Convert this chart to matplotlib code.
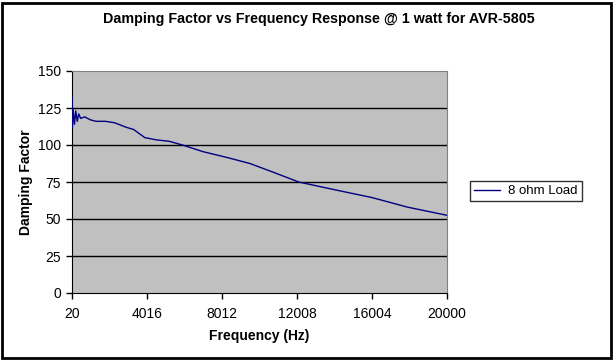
import matplotlib.pyplot as plt
from matplotlib.patches import Rectangle

plt.rcParams['font.family'] = ['Liberation Sans', 'DejaVu Sans']

# frequency (Hz) and damping factor
freq = [20, 40, 80, 150, 220, 300, 380, 480, 700, 1000, 1300, 1800, 2300,
        2900, 3300, 3900, 4500, 5200, 5900, 7000, 8300, 9500, 10700, 12100,
        14300, 16000, 17900, 20000]
damping = [132, 112, 124, 114, 123, 116, 121, 118, 119, 117, 116, 116, 115,
           112, 110.5, 105, 103.5, 102.5, 100, 95.5, 91.5, 87.5, 81.8, 75,
           69, 64.5, 58, 52.5]

xticks = [20, 4016, 8012, 12008, 16004, 20000]
yticks = [0, 25, 50, 75, 100, 125, 150]

fig = plt.figure(figsize=(6.16, 3.61), dpi=100)
ax = fig.add_axes([72 / 616, 1 - 293 / 361, 375 / 616, 222 / 361])
ax.set_facecolor('#c0c0c0')

for y in yticks[1:-1]:
    ax.axhline(y, color='black', lw=1, zorder=1)

ax.plot(freq, damping, color='#000080', lw=1, label='8 ohm Load', zorder=3)

ax.set_xlim(20, 20000)
ax.set_ylim(0, 150)
ax.set_xticks(xticks)
ax.set_yticks(yticks)
ax.tick_params(direction='out', length=4, width=1, labelsize=10, pad=6)
ax.tick_params(axis='y', pad=4)

for s in ['top', 'right']:
    ax.spines[s].set_color('#808080')
for s in ['left', 'bottom']:
    ax.spines[s].set_color('black')

ax.set_xlabel('Frequency (Hz)', fontsize=10, fontweight='bold', labelpad=6)
ax.set_ylabel('Damping Factor', fontsize=10, fontweight='bold')
ax.yaxis.set_label_coords(-0.104, 0.5)

fig.text(0.517, 0.948, 'Damping Factor vs Frequency Response @ 1 watt for AVR-5805',
         ha='center', va='center', fontsize=10.3, fontweight='bold')

leg = fig.legend(loc='center left', bbox_to_anchor=(470 / 616, 1 - 191 / 361),
                 frameon=True, fancybox=False, fontsize=9.5, handlelength=2,
                 borderpad=0.3, handletextpad=0.6, borderaxespad=0)
leg.get_frame().set_edgecolor('black')
leg.get_frame().set_linewidth(1)

fig.patches.append(Rectangle((0.004, 0.008), 0.988, 0.985, transform=fig.transFigure,
                             fill=False, edgecolor='black', lw=2))

fig.savefig('out.png', dpi=100)
